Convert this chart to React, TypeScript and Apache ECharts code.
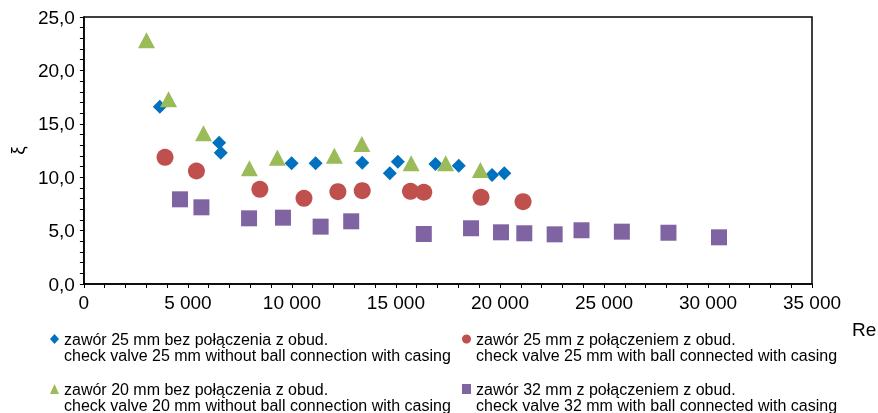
import React, { useEffect, useRef } from "react";
import * as echarts from "echarts";

const seriesNames = [
  "zawór 25 mm bez połączenia z obud.",
  "zawór 25 mm z połączeniem z obud.",
  "zawór 20 mm bez połączenia z obud.",
  "zawór 32 mm z połączeniem z obud.",
];
const seriesNamesEn = [
  "check valve 25 mm without ball connection with casing",
  "check valve 25 mm with ball connected with casing",
  "check valve 20 mm without ball connection with casing",
  "check valve 32 mm with ball connected with casing",
];

const valve25NoConn: [number, number][] = [
  [3650, 16.6], [6500, 13.23], [6580, 12.29], [9985, 11.3], [11140, 11.3],
  [13380, 11.36], [14705, 10.37], [15090, 11.45], [16900, 11.24],
  [18020, 11.08], [19620, 10.21], [20210, 10.37],
];
const valve25Conn: [number, number][] = [
  [3900, 11.86], [5410, 10.58], [8460, 8.87], [10580, 8.02], [12210, 8.64],
  [13380, 8.74], [15700, 8.68], [16340, 8.59], [19090, 8.12], [21110, 7.71],
];
const valve20NoConn: [number, number][] = [
  [3010, 22.82], [4070, 17.29], [5750, 14.11], [7955, 10.83], [9300, 11.83],
  [12040, 12.01], [13360, 13.11], [15730, 11.3], [17390, 11.3], [19060, 10.67],
];
const valve32Conn: [number, number][] = [
  [4620, 7.93], [5650, 7.18], [7940, 6.15], [9570, 6.21], [11380, 5.37],
  [12850, 5.87], [16340, 4.68], [18610, 5.22], [20050, 4.84], [21170, 4.75],
  [22630, 4.65], [23920, 5.03], [25860, 4.9], [28100, 4.8], [30530, 4.37],
];

const colors = ["#0070C0", "#C0504D", "#9BBB59", "#8064A2"];
const symbols = ["diamond", "circle", "triangle", "rect"];
const symbolSizes: (number | number[])[] = [[14, 14], 17, [17, 16], 16];
const dataSets = [valve25NoConn, valve25Conn, valve20NoConn, valve32Conn];

const FONT = "'Liberation Sans', Arial, sans-serif";

export default function App() {
  const ref = useRef<HTMLDivElement>(null);
  useEffect(() => {
    if (!ref.current) return;
    const chart = echarts.init(ref.current, undefined, { renderer: "svg" });
    const legendPos = [
      { left: 50, top: 331 },
      { left: 462, top: 331 },
      { left: 50, top: 381 },
      { left: 462, top: 381 },
    ];
    const secondLinePos = [
      { x: 64, y: 355 },
      { x: 476, y: 355 },
      { x: 64, y: 405 },
      { x: 476, y: 405 },
    ];
    chart.setOption({
      animation: false,
      textStyle: { fontFamily: FONT },
      grid: {
        left: 83,
        right: 66,
        top: 17,
        bottom: 129,
        show: true,
        borderColor: "#000",
        borderWidth: 1.5,
        backgroundColor: "transparent",
      },
      xAxis: {
        type: "value",
        min: 0,
        max: 35000,
        interval: 5000,
        axisLine: { show: true, lineStyle: { color: "#000", width: 1.5 } },
        axisTick: { show: true, length: 4, lineStyle: { color: "#000" } },
        minorTick: { show: true, splitNumber: 5, length: 4, lineStyle: { color: "#000" } },
        splitLine: { show: false },
        axisLabel: {
          color: "#000",
          fontSize: 19,
          fontFamily: FONT,
          margin: 9,
          formatter: (v: number) => String(v).replace(/\B(?=(\d{3})+(?!\d))/g, " "),
        },
      },
      yAxis: {
        type: "value",
        min: 0,
        max: 25,
        interval: 5,
        name: "ξ",
        nameLocation: "middle",
        nameRotate: 90,
        nameGap: 49,
        nameTextStyle: { color: "#000", fontSize: 19, fontFamily: FONT },
        axisLine: { show: true, lineStyle: { color: "#000", width: 1.5 } },
        axisTick: { show: true, length: 4, lineStyle: { color: "#000" } },
        minorTick: { show: true, splitNumber: 5, length: 4, lineStyle: { color: "#000" } },
        splitLine: { show: false },
        axisLabel: {
          color: "#000",
          fontSize: 19,
          fontFamily: FONT,
          margin: 9,
          formatter: (v: number) => v.toFixed(1).replace(".", ","),
        },
      },
      legend: seriesNames.map((n, i) => ({
        data: [n],
        left: legendPos[i].left,
        top: legendPos[i].top,
        padding: 0,
        itemWidth: 9,
        itemHeight: 10,
        selectedMode: false,
        textStyle: { color: "#000", fontSize: 16, lineHeight: 16, fontFamily: FONT },
      })),
      graphic: [
        ...seriesNamesEn.map((t, i) => ({
          type: "text",
          x: secondLinePos[i].x,
          y: secondLinePos[i].y,
          style: {
            text: t,
            fill: "#000",
            font: `16px ${FONT}`,
            lineHeight: 16,
            verticalAlign: "middle",
          },
        })),
        {
          type: "text",
          x: 852,
          y: 329,
          style: { text: "Re", fill: "#000", font: `19px ${FONT}`, verticalAlign: "middle" },
        },
      ],
      series: dataSets.map((d, i) => ({
        name: seriesNames[i],
        type: "scatter",
        data: d,
        symbol: symbols[i],
        symbolSize: symbolSizes[i],
        itemStyle: { color: colors[i], opacity: 1 },
        emphasis: { disabled: true },
      })),
    });
    return () => chart.dispose();
  }, []);
  return (
    <div
      ref={ref}
      style={{ position: "fixed", left: 0, top: 0, width: 878, height: 413 }}
    />
  );
}
